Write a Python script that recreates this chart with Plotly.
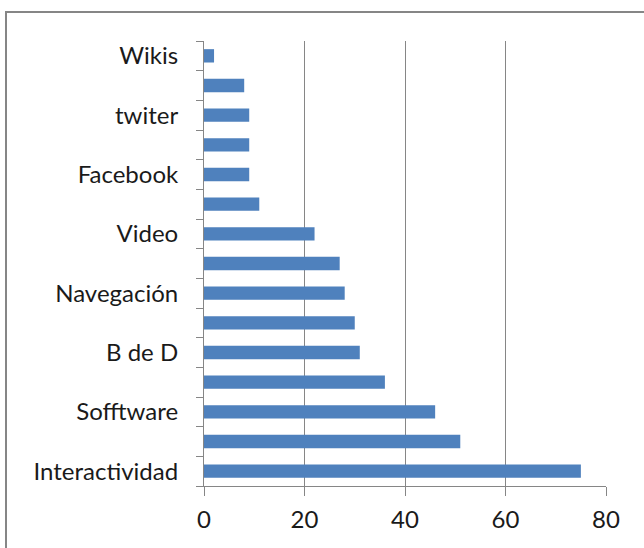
import plotly.graph_objects as go

# Data (bottom to top, as drawn)
labels = ["Interactividad", "", "Sofftware", "", "B de D", "", "Navegación", "",
          "Video", "", "Facebook", "", "twiter", "", "Wikis"]
values = [75, 51, 46, 36, 31, 30, 28, 27, 22, 11, 9, 9, 9, 8, 2]
x_ticks = [0, 20, 40, 60, 80]

positions = list(range(len(values)))
label_pos = [p for p, l in zip(positions, labels) if l]
label_txt = [l for l in labels if l]
boundaries = [p - 0.5 for p in positions] + [positions[-1] + 0.5]

FONT = "Lato, Open Sans, sans-serif"

fig = go.Figure(go.Bar(
    x=values, y=positions, orientation="h",
    marker=dict(color="#4F81BD", line=dict(width=0)),
    width=0.45,
))

fig.update_layout(
    width=644, height=548,
    margin=dict(l=204, r=38, t=41, b=62),
    paper_bgcolor="white", plot_bgcolor="white",
    showlegend=False,
    font=dict(family=FONT, size=24, color="#1a1a1a"),
    xaxis=dict(
        range=[0, 80], tickvals=x_ticks, showgrid=True, gridcolor="#868686",
        gridwidth=1, zeroline=False, showline=True, linecolor="#868686",
        linewidth=1, ticks="outside", ticklen=9, tickcolor="#868686",
        ticklabelstandoff=3, tickfont=dict(size=24, family=FONT),
    ),
    yaxis=dict(
        range=[-0.5, len(values) - 0.5], tickvals=label_pos, ticktext=label_txt,
        ticks="", showgrid=False, zeroline=False, showline=True,
        linecolor="#868686", linewidth=1, ticklabelstandoff=20,
        tickfont=dict(size=24, family=FONT),
        minor=dict(tickvals=boundaries, ticks="outside", ticklen=7,
                   tickcolor="#868686", showgrid=False),
    ),
    shapes=[dict(type="rect", xref="paper", yref="paper",
                 x0=-198 / 402, x1=1.2, y0=-0.3, y1=1 + 29 / 445,
                 line=dict(color="#868686", width=2), fillcolor="rgba(0,0,0,0)",
                 layer="below")],
)

fig.write_html("out.html")
